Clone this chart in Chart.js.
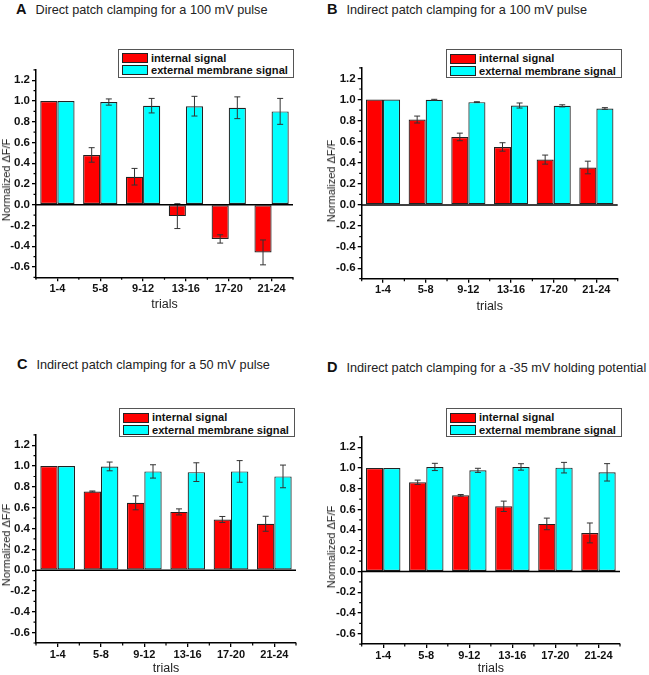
<!DOCTYPE html>
<html lang="en">
<head>
<meta charset="UTF-8">
<title>Normalized ΔF/F over trials</title>
<script src="https://cdn.jsdelivr.net/npm/chart.js"></script>
<style>
    body { margin: 0; background: #fff; font-family: "Liberation Sans", Arial, sans-serif; color: #222; }
    #page { position: relative; width: 649px; height: 675px; overflow: hidden; }
    .title { position: absolute; font-size: 12.7px; line-height: 16px; white-space: nowrap; }
    .title b { font-size: 14.5px; margin-right: 9px; color: #111; }
    .ytitle { position: absolute; font-size: 11px; white-space: nowrap; transform: translate(-50%, -50%) rotate(-90deg); }
    .legend { position: absolute; width: 174px; height: 27px; border: 1px solid #555; background: #fff; font-weight: bold; font-size: 11.1px; color: #111; }
    .legend .sw { position: absolute; left: 3px; width: 24px; height: 8px; border: 1px solid #222; }
    .legend .lab { position: absolute; left: 32px; line-height: 12px; white-space: nowrap; }
    canvas { position: absolute; }
</style>
</head>
<body>
<div id="page"></div>

<script>
    // categories, series and ticks
    const trials = ['1-4', '5-8', '9-12', '13-16', '17-20', '21-24'];
    const seriesNames = ['internal signal', 'external membrane signal'];
    const yTicks = [-0.6, -0.4, -0.2, 0.0, 0.2, 0.4, 0.6, 0.8, 1.0, 1.2];
    const yMinor = [-0.7, -0.5, -0.3, -0.1, 0.1, 0.3, 0.5, 0.7, 0.9, 1.1, 1.3];

    // A: direct, 100 mV
    const internalA = [1.0, 0.48, 0.27, -0.11, -0.33, -0.46];
    const internalErrA = [0, 0.07, 0.08, 0.12, 0.04, 0.12];
    const externalA = [1.0, 0.99, 0.955, 0.95, 0.935, 0.90];
    const externalErrA = [0, 0.03, 0.07, 0.095, 0.105, 0.125];

    // B: indirect, 100 mV
    const internalB = [1.0, 0.81, 0.645, 0.55, 0.43, 0.355];
    const internalErrB = [0, 0.033, 0.036, 0.04, 0.043, 0.06];
    const externalB = [1.0, 0.997, 0.975, 0.943, 0.94, 0.915];
    const externalErrB = [0, 0.005, 0.004, 0.024, 0.01, 0.008];

    // C: indirect, 50 mV
    const internalC = [1.0, 0.756, 0.647, 0.56, 0.487, 0.446];
    const internalErrC = [0, 0.005, 0.067, 0.029, 0.029, 0.072];
    const externalC = [1.0, 0.997, 0.949, 0.942, 0.949, 0.901];
    const externalErrC = [0, 0.042, 0.064, 0.09, 0.104, 0.109];

    // D: indirect, -35 mV holding
    const internalD = [1.0, 0.862, 0.736, 0.63, 0.46, 0.373];
    const internalErrD = [0, 0.021, 0.008, 0.05, 0.056, 0.096];
    const externalD = [1.0, 1.01, 0.977, 1.01, 1.003, 0.958];
    const externalErrD = [0, 0.035, 0.02, 0.031, 0.051, 0.084];

    const panelTitles = {
        A: 'Direct patch clamping for a 100 mV pulse',
        B: 'Indirect patch clamping for a 100 mV pulse',
        C: 'Indirect patch clamping for a 50 mV pulse',
        D: 'Indirect patch clamping for a -35 mV holding potential'
    };

    // page layout of each panel (plot box, title, legend, axis title)
    const layouts = [
        { key: 'A', data: [internalA, internalErrA, externalA, externalErrA],
          plot: { left: 36, right: 293, top: 69.6, bottom: 276.8 }, trialsY: 304,
          title: { x: 16, y: 1 }, legend: { x: 118, y: 48.5 }, ytitle: { x: 6, y: 180 } },
        { key: 'B', data: [internalB, internalErrB, externalB, externalErrB],
          plot: { left: 361.7, right: 617.7, top: 67, bottom: 278.2 }, trialsY: 306,
          title: { x: 327, y: 1 }, legend: { x: 446, y: 49 }, ytitle: { x: 331, y: 181 } },
        { key: 'C', data: [internalC, internalErrC, externalC, externalErrC],
          plot: { left: 36, right: 296, top: 434.5, bottom: 642.5 }, trialsY: 668,
          title: { x: 17, y: 356 }, legend: { x: 119, y: 408.3 }, ytitle: { x: 6, y: 545 } },
        { key: 'D', data: [internalD, internalErrD, externalD, externalErrD],
          plot: { left: 361.7, right: 620, top: 436.2, bottom: 643.6 }, trialsY: 668,
          title: { x: 327, y: 359 }, legend: { x: 446, y: 408.3 }, ytitle: { x: 331, y: 547 } }
    ];

    const colors = ['#ff0000', '#00ffff'];

    // error bars, zero line and minor ticks
    const extras = {
        id: 'extras',
        afterDatasetsDraw(chart) {
            const ctx = chart.ctx, y = chart.scales.y, x = chart.scales.x, area = chart.chartArea;
            ctx.save();
            ctx.strokeStyle = '#333';
            ctx.lineWidth = 1;
            chart.data.datasets.forEach((ds, i) => {
                chart.getDatasetMeta(i).data.forEach((bar, j) => {
                    const e = ds.errors[j];
                    if (!e) return;
                    const top = y.getPixelForValue(ds.data[j] + e);
                    const bot = y.getPixelForValue(ds.data[j] - e);
                    ctx.beginPath();
                    ctx.moveTo(bar.x, top); ctx.lineTo(bar.x, bot);
                    ctx.moveTo(bar.x - 3, top); ctx.lineTo(bar.x + 3, top);
                    ctx.moveTo(bar.x - 3, bot); ctx.lineTo(bar.x + 3, bot);
                    ctx.stroke();
                });
            });
            // zero line
            const y0 = y.getPixelForValue(0);
            ctx.strokeStyle = '#000';
            ctx.lineWidth = 1.5;
            ctx.beginPath();
            ctx.moveTo(area.left, y0); ctx.lineTo(area.right, y0);
            ctx.stroke();
            // minor ticks
            ctx.lineWidth = 1.2;
            ctx.beginPath();
            yMinor.forEach(v => {
                const p = y.getPixelForValue(v);
                ctx.moveTo(area.left, p); ctx.lineTo(area.left - 2.5, p);
            });
            for (let k = 0; k <= trials.length; k++) {
                let p;
                if (k === 0) p = area.left;
                else if (k === trials.length) p = area.right;
                else p = (x.getPixelForValue(k - 1) + x.getPixelForValue(k)) / 2;
                ctx.moveTo(p, area.bottom); ctx.lineTo(p, area.bottom + 2.5);
            }
            ctx.stroke();
            ctx.restore();
        }
    };

    const page = document.getElementById('page');

    layouts.forEach(L => {
        const [internal, internalErr, external, externalErr] = L.data;
        const P = L.plot;

        // title
        const t = document.createElement('div');
        t.className = 'title';
        t.style.left = L.title.x + 'px';
        t.style.top = L.title.y + 'px';
        t.innerHTML = '<b>' + L.key + '</b>' + panelTitles[L.key];
        page.appendChild(t);

        // canvas geometry
        const cx = Math.floor(P.left - 36);
        const cy = Math.floor(P.top - 8);
        const yW = P.left - cx;
        const xH = L.trialsY - P.bottom + 7.5;
        const cw = Math.ceil(P.right - cx + 10);
        const ch = Math.ceil(P.bottom + xH - cy);
        const canvas = document.createElement('canvas');
        canvas.width = cw; canvas.height = ch;
        canvas.style.left = cx + 'px';
        canvas.style.top = cy + 'px';
        page.appendChild(canvas);

        new Chart(canvas, {
            type: 'bar',
            data: {
                labels: trials,
                datasets: [
                    { label: seriesNames[0], data: internal, errors: internalErr, backgroundColor: colors[0] },
                    { label: seriesNames[1], data: external, errors: externalErr, backgroundColor: colors[1] }
                ].map(d => Object.assign(d, {
                    borderColor: '#222', borderWidth: 1.2, borderSkipped: false,
                    categoryPercentage: 0.8, barPercentage: 1.0
                }))
            },
            options: {
                responsive: false,
                animation: false,
                layout: { padding: { top: P.top - cy, right: cw - (P.right - cx), left: 0, bottom: 0 } },
                plugins: { legend: { display: false }, tooltip: { enabled: false } },
                scales: {
                    x: {
                        grid: { offset: false, drawOnChartArea: false, tickLength: 4, color: '#000', lineWidth: 1.3 },
                        border: { color: '#000', width: 1.5 },
                        ticks: { color: '#111', padding: 1, maxRotation: 0, autoSkip: false,
                                 font: { family: 'Liberation Sans', size: 11, weight: 'bold' } },
                        title: { display: true, text: 'trials', color: '#222', padding: 0,
                                 font: { family: 'Liberation Sans', size: 12.5 } },
                        afterFit: s => { s.height = xH; }
                    },
                    y: {
                        min: -0.7, max: 1.3,
                        afterBuildTicks: s => { s.ticks = yTicks.map(v => ({ value: v })); },
                        grid: { drawOnChartArea: false, tickLength: 4, color: '#000', lineWidth: 1.3 },
                        border: { color: '#000', width: 1.5 },
                        ticks: { color: '#111', padding: 2, callback: v => v.toFixed(1),
                                 font: { family: 'Liberation Sans', size: 11.5, weight: 'bold' } },
                        afterFit: s => { s.width = yW; }
                    }
                }
            },
            plugins: [extras]
        });

        // y axis title
        const yt = document.createElement('div');
        yt.className = 'ytitle';
        yt.style.left = L.ytitle.x + 'px';
        yt.style.top = L.ytitle.y + 'px';
        yt.textContent = 'Normalized ΔF/F';
        page.appendChild(yt);

        // legend
        const lg = document.createElement('div');
        lg.className = 'legend';
        lg.style.left = L.legend.x + 'px';
        lg.style.top = L.legend.y + 'px';
        lg.innerHTML = seriesNames.map((name, i) =>
            '<div class="sw" style="top:' + (3.5 + i * 12) + 'px;background:' + colors[i] + '"></div>' +
            '<div class="lab" style="top:' + (2 + i * 12.5) + 'px">' + name + '</div>'
        ).join('');
        page.appendChild(lg);
    });
</script>
</body>
</html>
